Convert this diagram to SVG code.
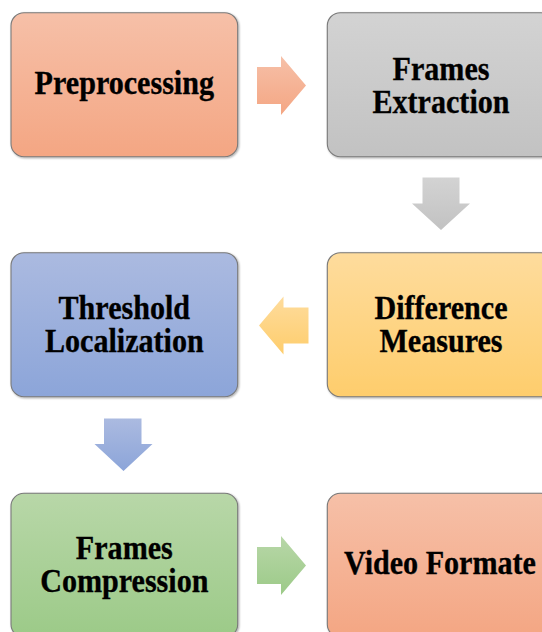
<svg xmlns="http://www.w3.org/2000/svg" width="542" height="632" viewBox="0 0 542 632">
  <defs>
    <linearGradient id="gOrange" x1="0" y1="0" x2="0" y2="1">
      <stop offset="0" stop-color="#f6c0a8"/>
      <stop offset="1" stop-color="#f4a683"/>
    </linearGradient>
    <linearGradient id="gGray" x1="0" y1="0" x2="0" y2="1">
      <stop offset="0" stop-color="#d3d3d3"/>
      <stop offset="1" stop-color="#c2c2c2"/>
    </linearGradient>
    <linearGradient id="gGold" x1="0" y1="0" x2="0" y2="1">
      <stop offset="0" stop-color="#fedc9d"/>
      <stop offset="1" stop-color="#fecd6c"/>
    </linearGradient>
    <linearGradient id="gBlue" x1="0" y1="0" x2="0" y2="1">
      <stop offset="0" stop-color="#abbae0"/>
      <stop offset="1" stop-color="#8ca5d9"/>
    </linearGradient>
    <linearGradient id="gGreen" x1="0" y1="0" x2="0" y2="1">
      <stop offset="0" stop-color="#b8d7a8"/>
      <stop offset="1" stop-color="#9cca88"/>
    </linearGradient>
    <filter id="shadow" x="-5%" y="-5%" width="115%" height="115%">
      <feGaussianBlur in="SourceAlpha" stdDeviation="1"/>
      <feOffset dx="1" dy="1" result="b"/>
      <feComponentTransfer><feFuncA type="linear" slope="0.35"/></feComponentTransfer>
      <feMerge><feMergeNode/><feMergeNode in="SourceGraphic"/></feMerge>
    </filter>
  </defs>
  <style>
    .box { stroke: #7a7a7a; stroke-width: 1.1; filter: url(#shadow); }
    .lbl { font-family: 'Liberation Serif', 'Times New Roman', serif; font-weight: 700; font-size: 30.1px; fill: #000; stroke: #000; stroke-width: 0.3; text-anchor: middle; }
  </style>

  <!-- flow arrows -->
  <g id="connectors">
    <path d="M257,67 H281 V56 L306,85.5 L281,115 V104 H257 Z" fill="url(#gOrange)"/>
    <path d="M422.5,177.5 H459.5 V203.5 H470 L441,230 L412,203.5 H422.5 Z" fill="url(#gGray)"/>
    <path d="M308.5,307.5 H283.5 V296.5 L259,325.5 L283.5,354.5 V343.5 H308.5 Z" fill="url(#gGold)"/>
    <path d="M104,418.5 H141.5 V444 H152.5 L123.5,471 L94.5,444 H104 Z" fill="url(#gBlue)"/>
    <path d="M257,547 H281 V536 L306,565.5 L281,595 V584 H257 Z" fill="url(#gGreen)"/>
  </g>

  <g id="preprocessing">
    <rect class="box" x="11" y="12.7" width="226.7" height="144" rx="13" fill="url(#gOrange)"/>
    <text class="lbl" transform="translate(124.3,94) scale(1,1.09)">Preprocessing</text>
  </g>

  <g id="frames-extraction">
    <rect class="box" x="327.3" y="12.7" width="226.7" height="144" rx="13" fill="url(#gGray)"/>
    <text class="lbl" transform="translate(441,80) scale(1,1.09)">Frames</text>
    <text class="lbl" transform="translate(441,113) scale(1,1.09)">Extraction</text>
  </g>

  <g id="difference-measures">
    <rect class="box" x="327.3" y="252.7" width="226.7" height="144" rx="13" fill="url(#gGold)"/>
    <text class="lbl" transform="translate(441,319) scale(1,1.09)">Difference</text>
    <text class="lbl" transform="translate(441,352) scale(1,1.09)">Measures</text>
  </g>

  <g id="threshold-localization">
    <rect class="box" x="11" y="252.7" width="226.7" height="144" rx="13" fill="url(#gBlue)"/>
    <text class="lbl" transform="translate(124.3,319) scale(1,1.09)">Threshold</text>
    <text class="lbl" transform="translate(124.3,352) scale(1,1.09)">Localization</text>
  </g>

  <g id="frames-compression">
    <rect class="box" x="11" y="493.3" width="226.7" height="144" rx="13" fill="url(#gGreen)"/>
    <text class="lbl" transform="translate(124.3,559) scale(1,1.09)">Frames</text>
    <text class="lbl" transform="translate(124.3,592) scale(1,1.09)">Compression</text>
  </g>

  <g id="video-formate">
    <rect class="box" x="327.3" y="493.3" width="226.7" height="144" rx="13" fill="url(#gOrange)"/>
    <text class="lbl" transform="translate(440,574) scale(1,1.09)">Video Formate</text>
  </g>
</svg>
